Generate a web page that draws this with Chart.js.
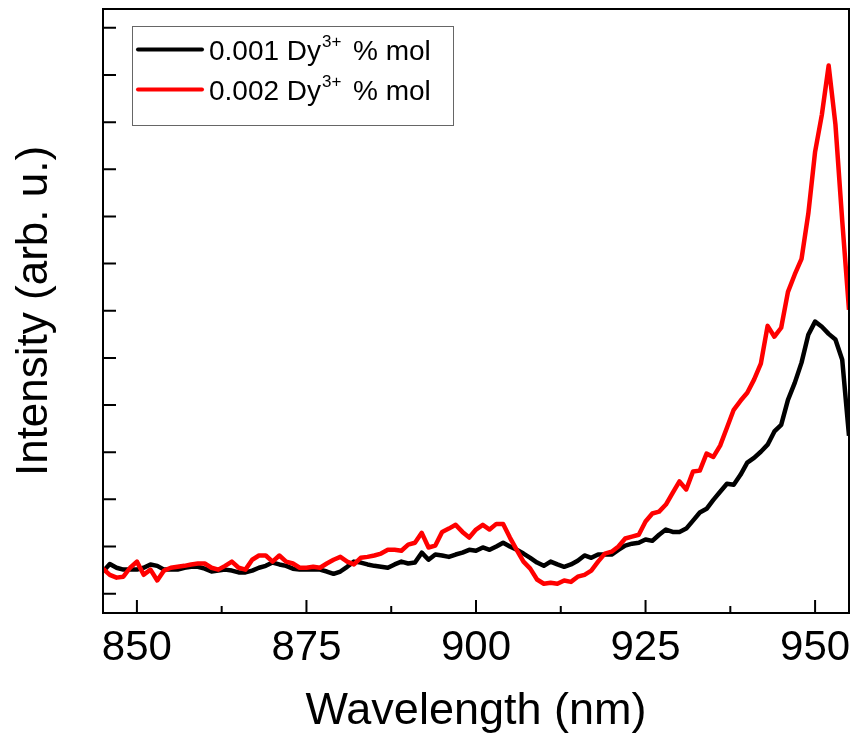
<!DOCTYPE html>
<html>
<head>
<meta charset="utf-8">
<script src="https://cdn.jsdelivr.net/npm/chart.js@4.4.0/dist/chart.umd.min.js"></script>
<style>
  body { margin: 0; background: #fff; }
  #wrap { width: 854px; height: 742px; }
</style>
</head>
<body>
<div id="wrap"><canvas id="chart" width="854" height="742"></canvas></div>
<script>
// wavelength grid (nm)
const wavelengths = [];
for (let w = 845; w <= 955; w++) wavelengths.push(w);

// 0.001 Dy3+ % mol (black)
const dy001 = [
  0.47, 0.63, 0.55, 0.51, 0.51, 0.51, 0.55, 0.62, 0.59, 0.51,
  0.51, 0.51, 0.55, 0.57, 0.57, 0.53, 0.47, 0.49, 0.51, 0.49,
  0.45, 0.45, 0.49, 0.55, 0.59, 0.66, 0.62, 0.59, 0.53, 0.51,
  0.51, 0.51, 0.51, 0.47, 0.42, 0.47, 0.57, 0.68, 0.66, 0.62,
  0.59, 0.57, 0.55, 0.62, 0.68, 0.64, 0.66, 0.87, 0.72, 0.83,
  0.81, 0.78, 0.83, 0.87, 0.93, 0.91, 0.98, 0.93, 1.00, 1.08,
  1.00, 0.93, 0.85, 0.76, 0.66, 0.59, 0.68, 0.62, 0.57, 0.62,
  0.70, 0.81, 0.76, 0.83, 0.83, 0.83, 0.93, 1.02, 1.06, 1.08,
  1.15, 1.12, 1.25, 1.36, 1.31, 1.31, 1.38, 1.55, 1.72, 1.80,
  1.99, 2.16, 2.33, 2.31, 2.52, 2.78, 2.88, 3.01, 3.16, 3.44,
  3.58, 4.11, 4.47, 4.90, 5.49, 5.77, 5.66, 5.51, 5.39, 4.96,
  3.35
];

// 0.002 Dy3+ % mol (red)
const dy002 = [
  0.53, 0.40, 0.34, 0.36, 0.55, 0.68, 0.40, 0.51, 0.28, 0.49,
  0.55, 0.57, 0.59, 0.62, 0.64, 0.64, 0.55, 0.51, 0.59, 0.68,
  0.55, 0.51, 0.72, 0.81, 0.81, 0.68, 0.81, 0.68, 0.64, 0.55,
  0.55, 0.57, 0.55, 0.64, 0.72, 0.78, 0.68, 0.62, 0.76, 0.78,
  0.81, 0.85, 0.93, 0.93, 0.91, 1.04, 1.08, 1.29, 0.98, 1.02,
  1.31, 1.38, 1.46, 1.31, 1.19, 1.36, 1.46, 1.36, 1.48, 1.48,
  1.19, 0.93, 0.68, 0.53, 0.30, 0.21, 0.23, 0.21, 0.28, 0.25,
  0.36, 0.40, 0.49, 0.68, 0.85, 0.89, 1.00, 1.17, 1.21, 1.25,
  1.53, 1.70, 1.74, 1.89, 2.14, 2.38, 2.21, 2.59, 2.61, 2.97,
  2.90, 3.14, 3.52, 3.90, 4.09, 4.26, 4.54, 4.88, 5.68, 5.45,
  5.64, 6.40, 6.77, 7.10, 8.06, 9.37, 10.16, 11.20, 9.95, 7.91,
  6.02
];

const xTicks = [850, 875, 900, 925, 950];
const xMinorTicks = [862.5, 887.5, 912.5, 937.5];
const yTicks = [0, 1, 2, 3, 4, 5, 6, 7, 8, 9, 10, 11, 12];

const seriesNames = ['0.001 Dy', '0.002 Dy'];
const seriesColors = ['#000000', '#ff0000'];
const legendSup = '3+';
const legendTail = '% mol';

// frame + inward ticks, drawn from the scales
const frameAndTicks = {
  id: 'frameAndTicks',
  afterDatasetsDraw(chart) {
    const ctx = chart.ctx;
    const a = chart.chartArea;
    const x = chart.scales.x, y = chart.scales.y;
    ctx.save();
    ctx.strokeStyle = '#000';
    ctx.lineWidth = 2;
    ctx.strokeRect(a.left, a.top, a.right - a.left, a.bottom - a.top);
    ctx.beginPath();
    xTicks.forEach(v => {
      const px = x.getPixelForValue(v);
      ctx.moveTo(px, a.bottom);
      ctx.lineTo(px, a.bottom - 13);
    });
    xMinorTicks.forEach(v => {
      const px = x.getPixelForValue(v);
      ctx.moveTo(px, a.bottom);
      ctx.lineTo(px, a.bottom - 7);
    });
    yTicks.forEach(v => {
      const py = y.getPixelForValue(v);
      ctx.moveTo(a.left, py);
      ctx.lineTo(a.left + 13, py);
    });
    ctx.stroke();
    ctx.restore();
  }
};

// legend box with superscript
const legendBox = {
  id: 'legendBox',
  afterDraw(chart) {
    const ctx = chart.ctx;
    ctx.save();
    ctx.fillStyle = '#fff';
    ctx.fillRect(132.5, 26.5, 321, 99);
    ctx.strokeStyle = '#666';
    ctx.lineWidth = 1;
    ctx.strokeRect(132.5, 26.5, 321, 99);
    seriesNames.forEach((name, i) => {
      const mid = 49.5 + i * 40;
      ctx.strokeStyle = seriesColors[i];
      ctx.lineWidth = 4;
      ctx.lineCap = 'round';
      ctx.beginPath();
      ctx.moveTo(138, mid);
      ctx.lineTo(202, mid);
      ctx.stroke();
      const base = mid + 10;
      ctx.fillStyle = '#000';
      ctx.textBaseline = 'alphabetic';
      ctx.font = '28px "Liberation Sans", Arial, sans-serif';
      ctx.fillText(name, 209, base);
      const w = ctx.measureText(name).width;
      ctx.font = '17px "Liberation Sans", Arial, sans-serif';
      ctx.fillText(legendSup, 209 + w + 1, base - 13);
      ctx.font = '28px "Liberation Sans", Arial, sans-serif';
      ctx.fillText(legendTail, 353, base);
    });
    ctx.restore();
  }
};

const ctx = document.getElementById('chart').getContext('2d');
new Chart(ctx, {
  type: 'line',
  data: {
    datasets: [{
      label: '0.001 Dy3+ % mol',
      data: wavelengths.map((w, i) => ({ x: w, y: dy001[i] })),
      borderColor: seriesColors[0],
      borderWidth: 4.5,
      borderJoinStyle: 'round',
      pointRadius: 0,
      tension: 0,
      order: 2
    }, {
      label: '0.002 Dy3+ % mol',
      data: wavelengths.map((w, i) => ({ x: w, y: dy002[i] })),
      borderColor: seriesColors[1],
      borderWidth: 4.5,
      borderJoinStyle: 'round',
      pointRadius: 0,
      tension: 0,
      order: 1
    }]
  },
  options: {
    responsive: false,
    animation: false,
    layout: { padding: { top: 9, right: 5, left: 0, bottom: 0 } },
    plugins: {
      legend: { display: false },
      tooltip: { enabled: false }
    },
    scales: {
      x: {
        type: 'linear',
        min: 845,
        max: 955,
        afterBuildTicks: scale => { scale.ticks = xTicks.map(v => ({ value: v })); },
        afterFit: scale => {
          scale.height = 129;
          scale.paddingLeft = 0;
          scale.paddingRight = 0;
        },
        grid: { display: false, drawTicks: false },
        border: { display: false },
        ticks: {
          color: '#000',
          padding: 10,
          maxRotation: 0,
          font: { family: '"Liberation Sans", Arial, sans-serif', size: 42 }
        },
        title: {
          display: true,
          text: 'Wavelength (nm)',
          color: '#000',
          padding: { top: 0, bottom: 3 },
          font: { family: '"Liberation Sans", Arial, sans-serif', size: 45 }
        }
      },
      y: {
        type: 'linear',
        min: -0.41,
        max: 12.4,
        afterBuildTicks: scale => { scale.ticks = yTicks.map(v => ({ value: v })); },
        afterFit: scale => { scale.width = 103; },
        grid: { display: false, drawTicks: false },
        border: { display: false },
        ticks: { display: false },
        title: {
          display: true,
          text: 'Intensity (arb. u.)',
          color: '#000',
          padding: { top: 8, bottom: 0 },
          font: { family: '"Liberation Sans", Arial, sans-serif', size: 44 }
        }
      }
    }
  },
  plugins: [frameAndTicks, legendBox]
});
</script>
</body>
</html>
